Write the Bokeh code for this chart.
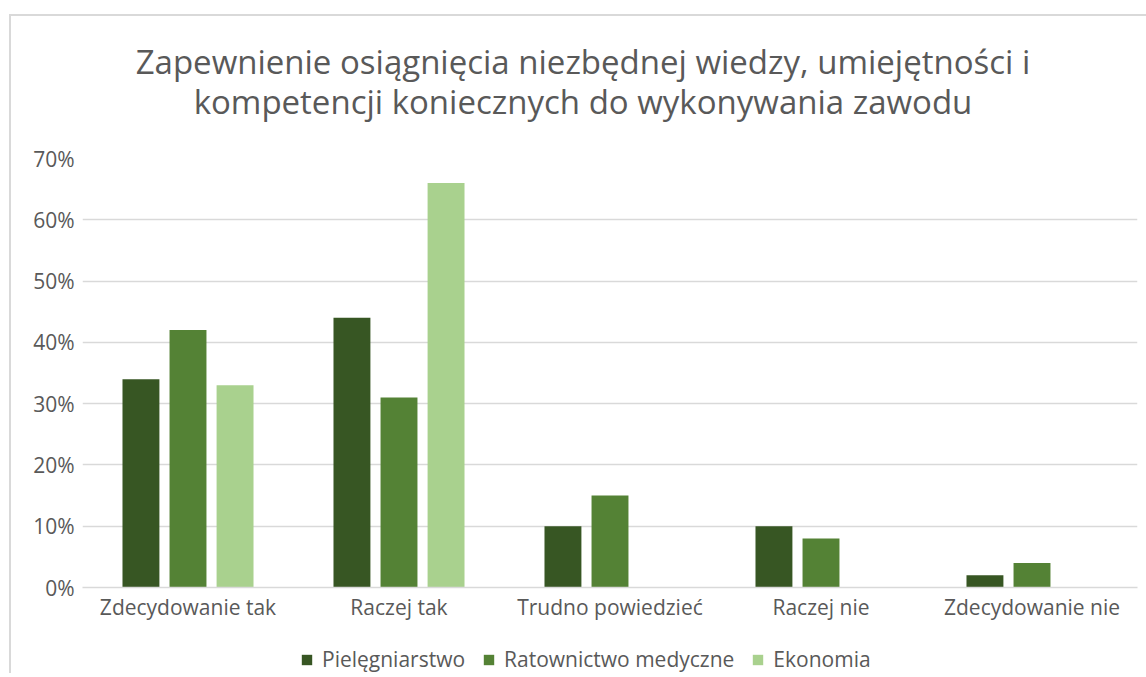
from bokeh.plotting import figure
from bokeh.layouts import column
from bokeh.models import (FactorRange, Range1d, FixedTicker, NumeralTickFormatter, Legend, LegendItem,
                          ColumnDataSource, Div)
from bokeh.transform import dodge
from bokeh.embed import file_html
from bokeh.resources import INLINE

categories = ["Zdecydowanie tak", "Raczej tak", "Trudno powiedzieć", "Raczej nie", "Zdecydowanie nie"]
pielegniarstwo = [0.34, 0.44, 0.10, 0.10, 0.02]
ratownictwo = [0.42, 0.31, 0.15, 0.08, 0.04]
ekonomia = [0.33, 0.66, 0.0, 0.0, 0.0]
series_names = ["Pielęgniarstwo", "Ratownictwo medyczne", "Ekonomia"]
colors = ["#375623", "#548235", "#A9D18E"]
y_ticks = [0.0, 0.1, 0.2, 0.3, 0.4, 0.5, 0.6, 0.7]
title_lines = ["Zapewnienie osiągnięcia niezbędnej wiedzy, umiejętności i",
               "kompetencji koniecznych do wykonywania zawodu"]

FONT = "Open Sans"
GRAY = "#595959"
W = 1135
offsets = [-0.223, 0.0, 0.223]
cols = ["p", "r", "e"]

# ---- title (two centred lines) ----
title_div = Div(
    text=("<div style=\"box-sizing:border-box;width:%dpx;padding-top:26px;padding-left:9px;"
          "font-family:'Open Sans';font-size:33px;line-height:40px;color:%s;text-align:center;"
          "white-space:nowrap\">%s<br>%s</div>") % (W, GRAY, title_lines[0], title_lines[1]),
    width=W, height=106, margin=(0, 0, 0, 0))

# ---- main chart ----
source = ColumnDataSource(data=dict(cat=categories, p=pielegniarstwo, r=ratownictwo, e=ekonomia))

p = figure(x_range=FactorRange(*categories, range_padding=0.0), y_range=Range1d(0, 0.7),
           width=W, height=521, output_backend="svg", toolbar_location=None,
           min_border_left=71, min_border_right=9, min_border_top=36, min_border_bottom=56)
p.outline_line_color = None

for col, off, c in zip(cols, offsets, colors):
    p.vbar(x=dodge("cat", off, range=p.x_range), top=col, width=0.175, source=source,
           fill_color=c, line_color=None)

p.yaxis.ticker = FixedTicker(ticks=y_ticks)
p.yaxis.formatter = NumeralTickFormatter(format="0%")
p.yaxis.axis_line_color = None
p.yaxis.major_tick_line_color = None
p.yaxis.minor_tick_line_color = None
p.yaxis.major_label_text_font = FONT
p.yaxis.major_label_text_font_size = "21px"
p.yaxis.major_label_text_color = GRAY
p.yaxis.major_label_standoff = 2

p.xaxis.axis_line_color = "#d9d9d9"
p.xaxis.axis_line_width = 1.5
p.xaxis.major_tick_line_color = None
p.xaxis.minor_tick_line_color = None
p.xaxis.major_label_text_font = FONT
p.xaxis.major_label_text_font_size = "21px"
p.xaxis.major_label_text_color = GRAY
p.xaxis.major_label_standoff = -1

p.xgrid.grid_line_color = None
p.ygrid.grid_line_color = "#d9d9d9"
p.ygrid.grid_line_width = 1.5
p.ygrid.ticker = FixedTicker(ticks=y_ticks)

# ---- legend strip (proxy renderers of the same series, kept out of view) ----
lf = figure(width=W, height=30, output_backend="svg", toolbar_location=None,
            x_range=FactorRange(*categories), y_range=Range1d(1, 2), min_border=0,
            x_axis_location=None, y_axis_location=None)
lf.outline_line_color = None
lf.grid.grid_line_color = None
items = []
for name, col, off, c in zip(series_names, cols, offsets, colors):
    r = lf.vbar(x=dodge("cat", off, range=lf.x_range), top=col, width=0.175, source=source,
                fill_color=c, line_color=None)
    items.append(LegendItem(label=name, renderers=[r]))
legend = Legend(items=items, orientation="horizontal", location=(218, 0),
                label_text_font=FONT, label_text_font_size="21px", label_text_color=GRAY,
                glyph_width=13, glyph_height=13, label_standoff=9, spacing=17,
                border_line_color=None, background_fill_alpha=0, margin=0, padding=0)
lf.add_layout(legend, "center")

root = column(title_div, p, lf, spacing=0,
              styles={"margin-top": "14px", "margin-left": "9px",
                      "border-top": "2px solid #d9d9d9", "border-left": "2px solid #d9d9d9"})

open("out.html", "w").write(file_html(root, INLINE))
